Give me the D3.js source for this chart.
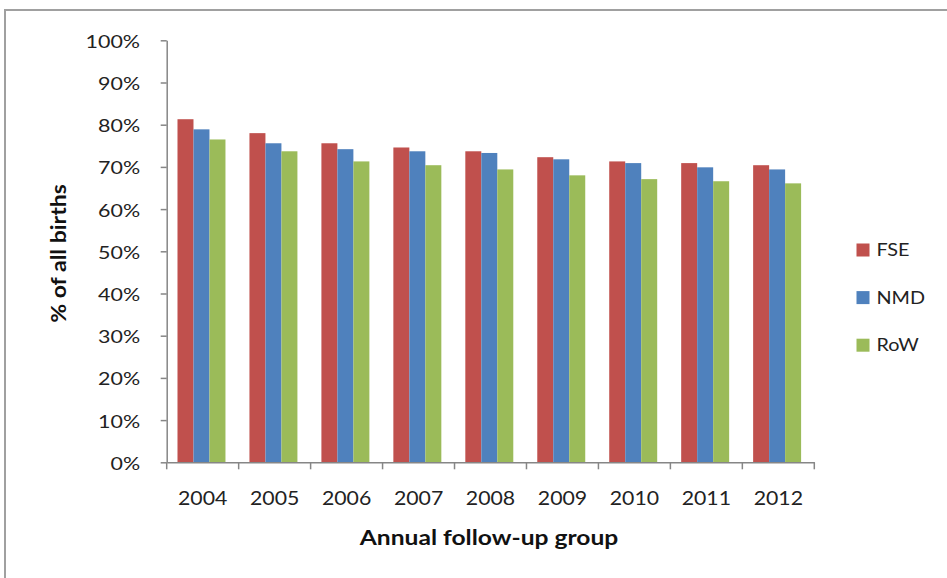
<!DOCTYPE html>
<html><head><meta charset="utf-8">
<script src="https://cdn.jsdelivr.net/npm/d3@7"></script>
<style>body{margin:0;background:#fff}svg{display:block}</style>
</head><body>
<svg id="c" width="947" height="578"></svg>
<script>
const categories = ["2004","2005","2006","2007","2008","2009","2010","2011","2012"];
const seriesNames = ["FSE","NMD","RoW"];
const FSE = [81.3,78.0,75.6,74.6,73.7,72.3,71.3,70.9,70.4];
const NMD = [78.9,75.6,74.2,73.7,73.3,71.8,70.9,69.9,69.4];
const RoW = [76.5,73.7,71.3,70.4,69.4,68.0,67.1,66.6,66.1];
const yTicks = [0,10,20,30,40,50,60,70,80,90,100];
const colors = ["#C0504D","#4F81BD","#9BBB59"];
const seriesVals = [FSE, NMD, RoW];

(function(){
const svg = d3.select("#c");
const font = "Lato, 'Open Sans', sans-serif";
svg.append("rect").attr("x",5).attr("y",10).attr("width",960).attr("height",600)
  .attr("fill","#fff").attr("stroke","#a0a0a0").attr("stroke-width",2);

const pl=166.7, pr=814.3, pt=40.3, pb=462.3;
const x = d3.scaleBand().domain(categories).range([pl,pr]).paddingInner(0).paddingOuter(0);
const x1 = d3.scaleBand().domain(seriesNames).range([0,x.bandwidth()]).paddingInner(0).paddingOuter(0.75).align(0.45);
const y = d3.scaleLinear().domain([0,100]).range([pb,pt]);

seriesNames.forEach((s,si)=>{
  svg.append("g").selectAll("rect").data(categories).join("rect")
    .attr("x",d=>x(d)+x1(s)).attr("width",x1.bandwidth())
    .attr("y",(d,i)=>y(seriesVals[si][i])).attr("height",(d,i)=>pb-y(seriesVals[si][i]))
    .attr("fill",colors[si]);
});

const ya = svg.append("g").attr("transform",`translate(${pl},0)`)
  .call(d3.axisLeft(y).tickValues(yTicks).tickFormat(d=>d+"%").tickSize(6).tickSizeOuter(0));
ya.select(".domain").attr("stroke","#868686").attr("stroke-width",1.5);
ya.selectAll(".tick line").attr("stroke","#868686").attr("stroke-width",1.5);
ya.selectAll("text").attr("font-family",font).attr("font-size",16.5).attr("fill","#222")
  .attr("x",-20.5).attr("dy","0.32em").attr("y",1.8).attr("transform","scale(1.3,1)");

const xa = svg.append("g").attr("transform",`translate(0,${pb})`)
  .call(d3.axisBottom(x).tickSize(0));
xa.select(".domain").attr("stroke","#868686").attr("stroke-width",1.5);
xa.selectAll("text").attr("font-family",font).attr("font-size",19).attr("fill","#222")
  .attr("y",42.5).attr("dy",0).attr("transform","scale(1.12,1)");
svg.append("g").selectAll("line").data(categories.concat(["end"])).join("line")
  .attr("x1",(d,i)=>pl+i*x.bandwidth()).attr("x2",(d,i)=>pl+i*x.bandwidth())
  .attr("y1",pb).attr("y2",pb+7).attr("stroke","#868686").attr("stroke-width",1.5);

svg.append("g").attr("transform","translate(66,253.5) rotate(-90)")
  .append("text").attr("text-anchor","middle").attr("transform","scale(1.15,1)")
  .attr("font-family",font).attr("font-weight","bold").attr("font-size",20).attr("fill","#111")
  .text("% of all births");
svg.append("g").attr("transform","translate(489,545)")
  .append("text").attr("text-anchor","middle").attr("transform","scale(1.23,1)")
  .attr("font-family",font).attr("font-weight","bold").attr("font-size",20).attr("fill","#111")
  .text("Annual follow-up group");

const lg = svg.append("g");
seriesNames.forEach((s,i)=>{
  const cy = 250 + i*47.6;
  lg.append("rect").attr("x",856.5).attr("y",cy-6.5).attr("width",13).attr("height",13).attr("fill",colors[i]);
  lg.append("g").attr("transform",`translate(876.5,${cy+6})`)
    .append("text").attr("transform","scale(1.2,1)")
    .attr("font-family",font).attr("font-size",16.5).attr("fill","#222").text(s);
});
})();
</script>
</body></html>
